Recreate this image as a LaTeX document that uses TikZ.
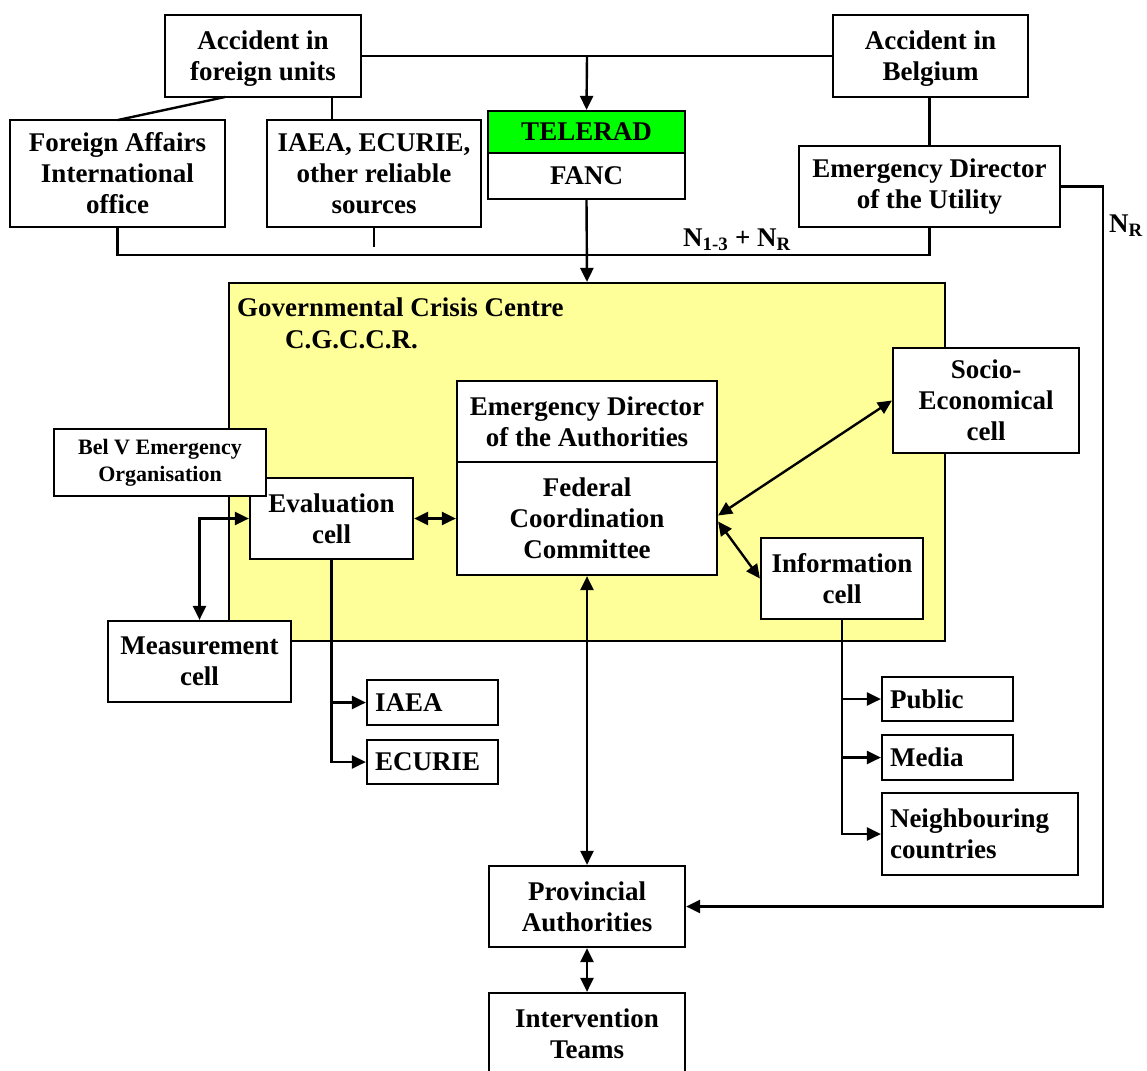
\documentclass[tikz,border=0pt]{standalone}
\usepackage{fontspec}
\setmainfont{Liberation Serif}
\usetikzlibrary{arrows.meta}
\definecolor{crisisyellow}{HTML}{FFFF99}
\definecolor{teleradgreen}{HTML}{00FF00}
\begin{document}
\begin{tikzpicture}[x=1pt,y=-1pt,
  every node/.style={font=\bfseries\fontsize{27}{31}\selectfont},
  box/.style={draw,line width=2.2pt,fill=white,align=center,inner sep=2pt},
  lbox/.style={draw,line width=2.2pt,fill=white,align=left,inner sep=8pt},
  conn/.style={line width=2.4pt},
  tip/.tip={Triangle[length=14pt,width=13pt]},
  arr/.style={conn,-tip},
  arrb/.style={conn,tip-tip},
  lab/.style={inner sep=0pt}]
\useasboundingbox (0,0) rectangle (1147,1070);
% crisis centre
\node[draw,line width=2.2pt,fill=crisisyellow,minimum width=716pt,minimum height=358pt,inner sep=0pt] (crisis) at (587,462) {};
\node[lab,anchor=west] (crt1) at (237,307) {Governmental Crisis Centre};
\node[lab,anchor=west] (crt2) at (285,340) {C.G.C.C.R.};
% top boxes
\node[box,minimum width=196pt,minimum height=82pt] (acfor) at (263,56) {\rule{0pt}{24pt}Accident in\\foreign units};
\node[box,minimum width=215pt,minimum height=107pt] (foraff) at (117.5,173.5) {Foreign Affairs\\International\\office};
\node[box,minimum width=214pt,minimum height=107pt] (iaeasrc) at (374,173.5) {IAEA, ECURIE,\\other reliable\\sources};
\node[box,fill=teleradgreen,minimum width=197pt,minimum height=42pt] (telerad) at (586.5,132) {TELERAD};
\node[box,minimum width=197pt,minimum height=46pt] (fanc) at (586.5,176) {FANC};
\node[box,minimum width=195pt,minimum height=82pt] (acbel) at (930.5,56) {\rule{0pt}{24pt}Accident in\\Belgium};
\node[box,minimum width=261pt,minimum height=81pt] (utility) at (929.5,186.5) {Emergency Director\\of the Utility};
% inside crisis centre
\node[box,minimum width=260pt,minimum height=81pt] (edauth) at (587,421.5) {Emergency Director\\of the Authorities};
\node[box,minimum width=260pt,minimum height=113pt] (fcc) at (587,518.5) {Federal\\Coordination\\Committee};
\node[box,minimum width=186pt,minimum height=105pt] (socio) at (986,400.5) {Socio-\\Economical\\cell};
\node[box,minimum width=163pt,minimum height=81pt] (eval) at (331.5,518.5) {Evaluation\\cell};
\node[box,minimum width=212pt,minimum height=67pt,font=\bfseries\fontsize{22}{27}\selectfont] (belv) at (160,462.5) {Bel V Emergency\\Organisation};
\node[box,minimum width=183pt,minimum height=81pt] (meas) at (199.5,661.5) {Measurement\\cell};
\node[box,minimum width=162pt,minimum height=81pt] (info) at (842,578.5) {Information\\cell};
% outputs
\node[lbox,text width=115pt,minimum height=45pt] (iaea) at (432.5,702.5) {IAEA};
\node[lbox,text width=115pt,minimum height=44pt] (ecurie) at (432.5,762) {ECURIE};
\node[lbox,text width=115pt,minimum height=44pt] (public) at (947.5,699) {Public};
\node[lbox,text width=115pt,minimum height=45pt] (media) at (947.5,757.5) {Media};
\node[lbox,text width=180pt,minimum height=82pt] (neigh) at (980,834) {Neighbouring\\countries};
\node[box,minimum width=196pt,minimum height=81pt] (prov) at (587,906.5) {Provincial\\Authorities};
\node[box,minimum width=196pt,minimum height=82pt] (interv) at (587,1034) {Intervention\\Teams};
% labels
\node[lab] (nlab) at (737,240) {N\textsubscript{1-3} + N\textsubscript{R}};
\node[lab] (nrlab) at (1126,226) {N\textsubscript{R}};
% coordinates
\coordinate (j1) at (587,56);
\coordinate (afs1) at (225,97);
\coordinate (ffn) at (118,120);
\coordinate (afs2) at (332,97);
\coordinate (isn) at (332,120);
\coordinate (busL) at (117.5,255);
\coordinate (busR) at (929.5,255);
\coordinate (stub) at (374,247);
\coordinate (nrtop) at (1103,186.5);
\coordinate (nrbot) at (1103,906.5);
% connectors top
\draw[conn] (acfor.east) -- (acbel.west);
\draw[arr] (j1) -- (telerad.north);
\draw[conn] (afs1) -- (ffn);
\draw[conn] (afs2) -- (isn);
\draw[conn] (foraff.south) -- (busL) -- (busR) -- (utility.south);
\draw[conn] (iaeasrc.south) -- (stub);
\draw[conn] (utility.north) -- (utility.north |- acbel.south);
\draw[arr] (fanc.south) -- (crisis.north);
\draw[arr] (utility.east) -- (nrtop) -- (nrbot) -- (prov.east);
% connectors inside
\draw[arrb] (eval.east) -- (fcc.west);
\draw[arrb] (meas.north) |- (eval.west);
\draw[arrb] ([yshift=3pt]fcc.east) -- (socio.west);
\draw[arrb] ([yshift=-3pt]fcc.east) -- (info.west);
\draw[arrb] (fcc.south) -- (prov.north);
\draw[arrb] (prov.south) -- (interv.north);
% evaluation outputs
\draw[arr] (eval.south) |- (ecurie.west);
\draw[arr] (eval.south |- iaea.west) -- (iaea.west);
% information outputs
\draw[arr] (info.south) |- (neigh.west);
\draw[arr] (info.south |- public.west) -- (public.west);
\draw[arr] (info.south |- media.west) -- (media.west);
\end{tikzpicture}
\end{document}
